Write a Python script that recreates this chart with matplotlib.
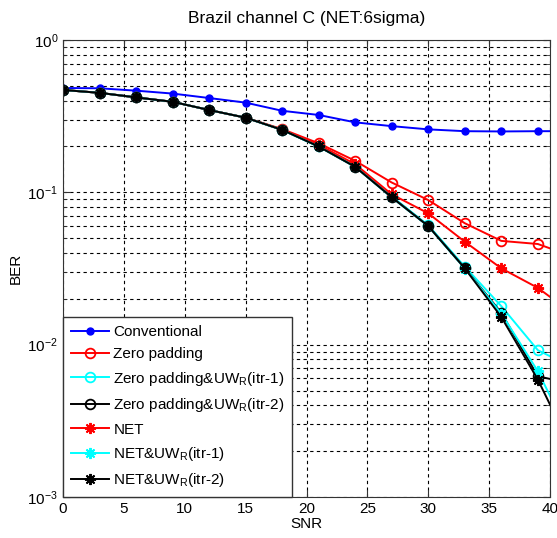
import matplotlib
matplotlib.use("Agg")
import matplotlib.pyplot as plt
from matplotlib.ticker import LogLocator, MultipleLocator, NullFormatter

# SNR points (last point lies beyond the visible axis, lines run off at 40)
snr = [0, 3, 6, 9, 12, 15, 18, 21, 24, 27, 30, 33, 36, 39, 42]

conventional = [0.484, 0.482, 0.465, 0.445, 0.416, 0.388, 0.343, 0.322,
                0.288, 0.272, 0.259, 0.252, 0.251, 0.252, 0.252]
zero_padding = [0.47, 0.45, 0.42, 0.393, 0.347, 0.309, 0.26, 0.21,
                0.161, 0.116, 0.089, 0.0627, 0.048, 0.0458, 0.0376]
zp_uw1 = [0.47, 0.45, 0.42, 0.393, 0.347, 0.309, 0.257, 0.2,
          0.148, 0.094, 0.0608, 0.0325, 0.0179, 0.0092, 0.0070]
zp_uw2 = [0.47, 0.45, 0.42, 0.393, 0.347, 0.309, 0.257, 0.2,
          0.147, 0.093, 0.0602, 0.0318, 0.0162, 0.0062, 0.0055]
net = [0.47, 0.45, 0.42, 0.393, 0.347, 0.309, 0.258, 0.205,
       0.153, 0.097, 0.0728, 0.0474, 0.0317, 0.0236, 0.0157]
net_uw1 = [0.47, 0.45, 0.42, 0.393, 0.347, 0.309, 0.257, 0.2,
           0.147, 0.0925, 0.060, 0.0316, 0.0160, 0.0067, 0.0022]
net_uw2 = [0.47, 0.45, 0.42, 0.393, 0.347, 0.309, 0.257, 0.2,
           0.147, 0.0927, 0.060, 0.0317, 0.0152, 0.0059, 0.0019]

labels = ["Conventional",
          "Zero padding",
          r"Zero padding&UW$_\mathregular{R}$(itr-1)",
          r"Zero padding&UW$_\mathregular{R}$(itr-2)",
          "NET",
          r"NET&UW$_\mathregular{R}$(itr-1)",
          r"NET&UW$_\mathregular{R}$(itr-2)"]

plt.rcParams["font.family"] = ["Liberation Sans", "DejaVu Sans"]
plt.rcParams["mathtext.fontset"] = "custom"
plt.rcParams["mathtext.rm"] = "Liberation Sans"
plt.rcParams["mathtext.it"] = "Liberation Sans:italic"
plt.rcParams["mathtext.bf"] = "Liberation Sans:bold"
plt.rcParams["mathtext.default"] = "regular"

fig = plt.figure(figsize=(5.57, 5.38), dpi=100)
ax = fig.add_axes([63 / 557, 1 - 497 / 538, 487 / 557, 457 / 538])

star = (8, 2, 0)
lw = 1.4
ax.semilogy(snr, conventional, color="blue", marker="o", ms=5, lw=lw, label=labels[0])
ax.semilogy(snr, zero_padding, color="red", marker="o", ms=7, mfc="none", mew=1.3, lw=lw, label=labels[1])
ax.semilogy(snr, zp_uw1, color="cyan", marker="o", ms=7, mfc="none", mew=1.3, lw=lw, label=labels[2])
ax.semilogy(snr, zp_uw2, color="black", marker="o", ms=7, mfc="none", mew=1.3, lw=lw, label=labels[3])
ax.semilogy(snr, net, color="red", marker=star, ms=8, mew=1.4, lw=lw, label=labels[4])
ax.semilogy(snr, net_uw1, color="cyan", marker=star, ms=8, mew=1.4, lw=lw, label=labels[5])
ax.semilogy(snr, net_uw2, color="black", marker=star, ms=8, mew=1.4, lw=lw, label=labels[6])

ax.set_xlim(0, 40)
ax.set_ylim(1e-3, 1)
ax.xaxis.set_major_locator(MultipleLocator(5))
ax.yaxis.set_major_locator(LogLocator(base=10))
ax.yaxis.set_minor_locator(LogLocator(base=10, subs=range(2, 10)))
ax.yaxis.set_minor_formatter(NullFormatter())

ax.grid(True, which="major", axis="both", color="black", linestyle=(0, (3, 3)), lw=0.8)
ax.grid(True, which="minor", axis="y", color="black", linestyle=(0, (3, 3)), lw=0.8)

ax.tick_params(which="both", direction="in", top=True, right=True, colors="#333333",
               labelcolor="black", labelsize=11)
ax.tick_params(which="major", length=5)
ax.tick_params(which="minor", length=3)
for s in ax.spines.values():
    s.set_color("#333333")

ax.set_title("Brazil channel C (NET:6sigma)", fontsize=12.5, pad=12)
ax.set_xlabel("SNR", fontsize=11, labelpad=1)
ax.set_ylabel("BER", fontsize=11, labelpad=3)

leg = ax.legend(loc="lower left", borderaxespad=0, fancybox=False, edgecolor="#333333",
                framealpha=1, fontsize=11, handlelength=2.5, handletextpad=0.3,
                borderpad=0.5, labelspacing=0.55)
leg.get_frame().set_linewidth(1.0)

fig.savefig("out.png", dpi=100)
